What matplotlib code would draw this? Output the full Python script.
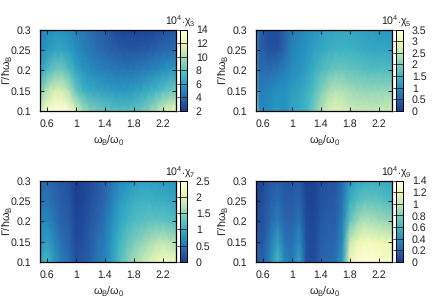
import numpy as np
import matplotlib
matplotlib.use("Agg")
import matplotlib.pyplot as plt
from matplotlib.colors import LinearSegmentedColormap

plt.rcParams['font.family'] = ['Liberation Sans', 'DejaVu Sans']
plt.rcParams['mathtext.fontset'] = 'custom'
plt.rcParams['mathtext.rm'] = 'Liberation Sans'
plt.rcParams['mathtext.it'] = 'Liberation Sans'
plt.rcParams['mathtext.bf'] = 'Liberation Sans'
plt.rcParams['font.size'] = 7.6
plt.rcParams['text.hinting'] = 'none'

omega = [0.5, 0.55, 0.6, 0.7, 0.8, 0.9, 1.0, 1.1, 1.2, 1.3, 1.4, 1.5, 1.6, 1.7, 1.8, 1.9, 2.0, 2.1, 2.2, 2.3, 2.4]
gamma = [0.1, 0.15, 0.2, 0.25, 0.3]

chi3 = [
    [11.5, 12.5, 13.2, 13.8, 14.0, 13.4, 11.6, 9.8, 9.0, 8.6, 8.2, 7.9, 7.7, 7.7, 7.9, 8.3, 9.0, 9.9, 11.0, 12.0, 12.5],
    [8.8, 9.4, 10.2, 11.2, 11.4, 10.2, 8.2, 7.0, 6.5, 6.3, 6.1, 5.9, 5.8, 5.8, 6.0, 6.3, 6.7, 7.2, 7.7, 8.2, 8.6],
    [6.4, 6.8, 7.4, 8.4, 8.6, 7.6, 6.4, 5.7, 5.3, 5.0, 4.8, 4.6, 4.4, 4.4, 4.5, 4.7, 4.9, 5.2, 5.5, 5.8, 6.0],
    [5.3, 5.5, 5.8, 6.3, 6.4, 6.0, 5.4, 4.9, 4.5, 4.1, 3.8, 3.5, 3.3, 3.2, 3.2, 3.3, 3.4, 3.6, 3.8, 4.0, 4.2],
    [4.9, 5.1, 5.2, 5.6, 5.6, 5.3, 4.8, 4.4, 4.0, 3.6, 3.3, 2.9, 2.6, 2.4, 2.3, 2.3, 2.4, 2.6, 2.8, 3.0, 3.2],
]
chi5 = [
    [2.6, 1.0, 0.9, 1.0, 1.1, 1.0, 1.3, 1.35, 1.5, 1.9, 2.3, 2.7, 2.85, 2.75, 2.6, 2.5, 2.5, 2.5, 2.5, 2.55, 2.6],
    [1.9, 0.8, 0.8, 0.9, 1.0, 1.0, 1.15, 1.25, 1.4, 1.65, 2.0, 2.25, 2.4, 2.35, 2.25, 2.2, 2.15, 2.15, 2.15, 2.15, 2.15],
    [1.4, 0.6, 0.6, 0.6, 0.7, 0.8, 0.95, 1.05, 1.2, 1.4, 1.6, 1.75, 1.85, 1.85, 1.8, 1.75, 1.7, 1.65, 1.65, 1.65, 1.65],
    [1.2, 0.5, 0.4, 0.3, 0.3, 0.55, 0.85, 0.95, 1.05, 1.2, 1.3, 1.4, 1.45, 1.45, 1.45, 1.4, 1.35, 1.3, 1.3, 1.3, 1.25],
    [1.2, 0.5, 0.35, 0.2, 0.2, 0.45, 0.75, 0.85, 0.95, 1.05, 1.15, 1.25, 1.3, 1.3, 1.3, 1.25, 1.2, 1.15, 1.1, 1.1, 1.1],
]
chi7 = [
    [0.8, 1.05, 1.1, 0.8, 0.55, 0.45, 0.2, 0.25, 0.35, 0.5, 0.6, 0.85, 1.15, 1.4, 1.6, 1.75, 1.95, 2.1, 2.3, 2.3, 2.2],
    [0.7, 0.8, 0.85, 0.65, 0.45, 0.35, 0.15, 0.2, 0.3, 0.45, 0.55, 0.8, 1.05, 1.25, 1.4, 1.5, 1.6, 1.7, 1.75, 1.7, 1.65],
    [0.6, 0.65, 0.65, 0.5, 0.35, 0.3, 0.1, 0.15, 0.25, 0.35, 0.5, 0.7, 0.9, 1.05, 1.15, 1.2, 1.25, 1.25, 1.25, 1.2, 1.15],
    [0.45, 0.5, 0.5, 0.4, 0.3, 0.25, 0.05, 0.1, 0.2, 0.3, 0.4, 0.6, 0.8, 0.9, 1.0, 1.05, 1.05, 1.0, 1.0, 0.95, 0.9],
    [0.35, 0.4, 0.4, 0.35, 0.25, 0.2, 0.02, 0.08, 0.15, 0.25, 0.35, 0.5, 0.65, 0.75, 0.8, 0.85, 0.85, 0.85, 0.8, 0.8, 0.75],
]
chi9 = [
    [0.2, 0.2, 0.18, 0.35, 0.62, 0.35, 0.3, 0.5, 0.12, 0.08, 0.2, 0.22, 0.25, 0.45, 1.2, 1.35, 1.4, 1.38, 1.35, 1.32, 1.3],
    [0.15, 0.15, 0.14, 0.3, 0.48, 0.28, 0.25, 0.38, 0.1, 0.07, 0.17, 0.2, 0.22, 0.38, 1.0, 1.18, 1.25, 1.25, 1.22, 1.2, 1.15],
    [0.1, 0.1, 0.12, 0.22, 0.32, 0.2, 0.2, 0.28, 0.08, 0.06, 0.14, 0.17, 0.18, 0.32, 0.72, 0.88, 0.95, 0.92, 0.9, 0.88, 0.85],
    [0.07, 0.08, 0.1, 0.18, 0.24, 0.16, 0.16, 0.2, 0.05, 0.04, 0.12, 0.14, 0.15, 0.28, 0.55, 0.66, 0.72, 0.72, 0.7, 0.66, 0.65],
    [0.05, 0.06, 0.08, 0.15, 0.18, 0.13, 0.13, 0.15, 0.03, 0.03, 0.1, 0.12, 0.13, 0.25, 0.45, 0.52, 0.55, 0.55, 0.55, 0.52, 0.52],
]

x_ticks = [0.6, 1, 1.4, 1.8, 2.2]
y_ticks = [0.1, 0.15, 0.2, 0.25, 0.3]
y_labels = ["0.1", "0.15", "0.2", "0.25", "0.3"]

cb3 = [2, 4, 6, 8, 10, 12, 14]
cb5 = [0, 0.5, 1, 1.5, 2, 2.5, 3, 3.5]
cb7 = [0, 0.5, 1, 1.5, 2, 2.5]
cb9 = [0, 0.2, 0.4, 0.6, 0.8, 1, 1.2, 1.4]

palette = ["#1a3c90", "#2a64ac", "#2591c0", "#41b6c4", "#7fcdbb", "#c7e9b4", "#edf8b1", "#ffffd9"]
cmap = LinearSegmentedColormap.from_list("ylgnbu", palette)

W, H = 432, 302
fig = plt.figure(figsize=(W / 100, H / 100), dpi=100)


def panel(left, top, data, cb_ticks, label):
    ax = fig.add_axes([left / W, 1 - (top + 81.5) / H, 136.3 / W, 81.5 / H])
    mesh = ax.pcolormesh(omega, gamma, np.array(data), cmap=cmap, shading='gouraud',
                         vmin=cb_ticks[0], vmax=cb_ticks[-1], rasterized=True)
    ax.set_xlim(0.5, 2.385)
    ax.set_ylim(0.1, 0.3)
    ax.set_xticks(x_ticks)
    ax.set_xticklabels(["0.6", "1", "1.4", "1.8", "2.2"])
    ax.set_yticks(y_ticks)
    ax.set_yticklabels(y_labels)
    ax.tick_params(direction='in', top=True, right=True, length=3, width=0.7, pad=6, labelsize=7.6, colors='#222222')
    for s in ax.spines.values():
        s.set_linewidth(0.9)
    fig.text((left + 68.5) / W, 1 - (top + 110.5) / H, r"$\omega_B/\omega_0$", fontsize=7.8,
             ha='center', va='center', color='#222222')
    fig.text((left - 33) / W, 1 - (top + 40.5) / H, r"$\Gamma/\hbar\omega_B$", fontsize=7.8,
             rotation=90, ha='center', va='center', color='#222222')

    cax = fig.add_axes([(left + 140) / W, 1 - (top + 81.5) / H, 7 / W, 81.5 / H])
    cb = fig.colorbar(mesh, cax=cax)
    cb.set_ticks(cb_ticks)
    cb.set_ticklabels([f"{t:g}" for t in cb_ticks])
    cax.tick_params(direction='in', left=False, right=True, length=7, width=0.6, pad=6.5, labelsize=7.6, colors='#222222')
    cb.outline.set_linewidth(0.7)
    fig.text((left + 125) / W, 1 - (top - 8) / H, label, fontsize=7.6, ha='left', va='center', color='#222222')


panel(39.8, 29.5, chi3, cb3, r"$10^4{\cdot}\chi_3$")
panel(255.8, 29.5, chi5, cb5, r"$10^4{\cdot}\chi_5$")
panel(39.8, 180.5, chi7, cb7, r"$10^4{\cdot}\chi_7$")
panel(255.8, 180.5, chi9, cb9, r"$10^4{\cdot}\chi_9$")

fig.savefig("out.png", dpi=100)
